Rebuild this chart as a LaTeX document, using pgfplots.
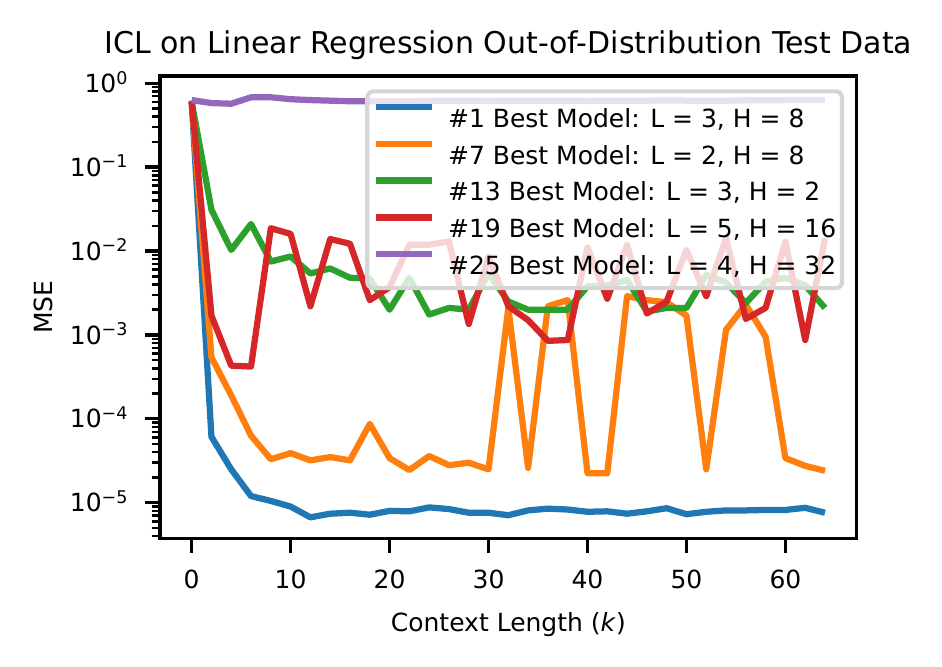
\documentclass[border=0pt]{standalone}
\usepackage{fontspec}
\setmainfont{DejaVu Sans}
\usepackage{pgfplots}
\pgfplotsset{compat=1.18}
\definecolor{c1}{HTML}{1F77B4}
\definecolor{c2}{HTML}{FF7F0E}
\definecolor{c3}{HTML}{2CA02C}
\definecolor{c4}{HTML}{D62728}
\definecolor{c5}{HTML}{9467BD}
\newcommand{\tp}[1]{10\raisebox{2pt}{\fontsize{4.2}{4.2}\selectfont #1}}
\begin{document}
\begin{tikzpicture}
\path[use as bounding box] (-38.4pt,-30.89pt) rectangle (187.68pt,129.19pt);
\begin{axis}[
  at={(0,0)}, anchor=south west,
  scale only axis, width=167.2pt, height=110.95pt,
  ymode=log,
  xmin=-3.2, xmax=67.2,
  ymin=3.77e-6, ymax=1.22,
  font=\fontsize{6}{7.2}\selectfont,
  axis line style={line width=0.8pt},
  tick align=outside, tick pos=left,
  major tick length=3.5pt, minor tick length=2pt,
  every major tick/.append style={line width=0.8pt, black},
  every minor tick/.append style={line width=0.6pt, black},
  xtick={0,10,20,30,40,50,60},
  /pgf/number format/assume math mode=true,
  xticklabel style={anchor=base, inner sep=0pt, yshift=-8.5pt},
  ytick={1e-5,1e-4,1e-3,1e-2,1e-1,1},
  yticklabels={\tp{−5},\tp{−4},\tp{−3},\tp{−2},\tp{−1},\tp{0}},
  minor ytick={4e-6,5e-6,6e-6,7e-6,8e-6,9e-6,
    2e-5,3e-5,4e-5,5e-5,6e-5,7e-5,8e-5,9e-5,
    2e-4,3e-4,4e-4,5e-4,6e-4,7e-4,8e-4,9e-4,
    2e-3,3e-3,4e-3,5e-3,6e-3,7e-3,8e-3,9e-3,
    2e-2,3e-2,4e-2,5e-2,6e-2,7e-2,8e-2,9e-2,
    2e-1,3e-1,4e-1,5e-1,6e-1,7e-1,8e-1,9e-1},
  yticklabel style={anchor=base east, inner sep=0pt, xshift=-4.1pt, yshift=-2.2pt},
  title={ICL on Linear Regression Out-of-Distribution Test Data},
  every axis title/.style={at={(axis description cs:0.5,1.0491)}, anchor=base, inner sep=0pt, font=\fontsize{7.2}{8.6}\selectfont},
  xlabel={Context Length (\textit{k})},
  xlabel style={at={(axis description cs:0.5,-0.2019)}, anchor=base, inner sep=0pt},
  ylabel={MSE},
  ylabel style={at={(axis description cs:-0.1549,0.5)}, anchor=base, inner sep=0pt},
  every axis plot/.append style={line width=1.5pt, line join=round, no markers},
  legend cell align=left,
  legend style={at={(axis description cs:1,1)}, anchor=north east, xshift=-3pt, yshift=-3.2pt,
    draw=black!16, line width=1pt, fill=white, fill opacity=0.8, text opacity=1, draw opacity=1,
    rounded corners=1.5pt, inner xsep=1.4pt, inner ysep=2.3pt, row sep=1.53pt,
    font=\fontsize{6}{7.2}\selectfont,
    nodes={inner sep=0pt, text height=6.3pt, text depth=1.0pt}},
  legend image code/.code={\draw[#1, line width=1.5pt, line cap=butt] (0pt,2.2pt) -- (13.4pt,2.2pt); \path (16.5pt,2.2pt);},
]
\addplot[c1] coordinates {(0,0.62)(2,6.1e-5)(4,2.5e-5)(6,1.2e-5)(8,1.05e-5)(10,9.0e-6)(12,6.7e-6)(14,7.4e-6)(16,7.6e-6)(18,7.2e-6)(20,8.0e-6)(22,7.9e-6)(24,8.8e-6)(26,8.4e-6)(28,7.6e-6)(30,7.6e-6)(32,7.1e-6)(34,8.1e-6)(36,8.5e-6)(38,8.3e-6)(40,7.8e-6)(42,7.9e-6)(44,7.4e-6)(46,7.9e-6)(48,8.6e-6)(50,7.3e-6)(52,7.8e-6)(54,8.1e-6)(56,8.1e-6)(58,8.2e-6)(60,8.2e-6)(62,8.7e-6)(64,7.6e-6)};
\addlegendentry{\#1 Best Model: L = 3, H = 8\hspace{1pt}}
\addplot[c2] coordinates {(0,0.6)(2,5.4e-4)(4,1.9e-4)(6,6.3e-5)(8,3.3e-5)(10,3.9e-5)(12,3.2e-5)(14,3.5e-5)(16,3.2e-5)(18,8.7e-5)(20,3.4e-5)(22,2.45e-5)(24,3.6e-5)(26,2.8e-5)(28,3.0e-5)(30,2.5e-5)(32,2.1e-3)(34,2.6e-5)(36,2.2e-3)(38,2.6e-3)(40,2.25e-5)(42,2.25e-5)(44,2.9e-3)(46,2.6e-3)(48,2.45e-3)(50,1.7e-3)(52,2.5e-5)(54,1.15e-3)(56,2.3e-3)(58,9.5e-4)(60,3.4e-5)(62,2.75e-5)(64,2.4e-5)};
\addlegendentry{\#7 Best Model: L = 2, H = 8\hspace{1pt}}
\addplot[c3] coordinates {(0,0.6)(2,0.031)(4,0.0103)(6,0.021)(8,0.0075)(10,0.0086)(12,0.0054)(14,0.0062)(16,0.0048)(18,0.0047)(20,0.0020)(22,0.0048)(24,0.00175)(26,0.0021)(28,0.0020)(30,0.0054)(32,0.0025)(34,0.0020)(36,0.0020)(38,0.0020)(40,0.0038)(42,0.0039)(44,0.0045)(46,0.0019)(48,0.0021)(50,0.0021)(52,0.0052)(54,0.0042)(56,0.0024)(58,0.0043)(60,0.0048)(62,0.0039)(64,0.0021)};
\addlegendentry{\#13 Best Model: L = 3, H = 2\hspace{1pt}}
\addplot[c4] coordinates {(0,0.6)(2,0.0017)(4,0.00043)(6,0.00042)(8,0.0187)(10,0.016)(12,0.0022)(14,0.0139)(16,0.0122)(18,0.0026)(20,0.0037)(22,0.0119)(24,0.0119)(26,0.0130)(28,0.00135)(30,0.0085)(32,0.0022)(34,0.0015)(36,0.00085)(38,0.00087)(40,0.0110)(42,0.0027)(44,0.0118)(46,0.0018)(48,0.0025)(50,0.0103)(52,0.0029)(54,0.0142)(56,0.00155)(58,0.0021)(60,0.0129)(62,0.00087)(64,0.0142)};
\addlegendentry{\#19 Best Model: L = 5, H = 16\hspace{1pt}}
\addplot[c5] coordinates {(0,0.63)(2,0.58)(4,0.57)(6,0.68)(8,0.68)(10,0.645)(12,0.63)(14,0.62)(16,0.61)(18,0.61)(20,0.61)(22,0.61)(24,0.615)(26,0.62)(28,0.62)(30,0.615)(32,0.62)(34,0.62)(36,0.62)(38,0.62)(40,0.615)(42,0.62)(44,0.62)(46,0.62)(48,0.625)(50,0.62)(52,0.62)(54,0.62)(56,0.625)(58,0.625)(60,0.63)(62,0.63)(64,0.63)};
\addlegendentry{\#25 Best Model: L = 4, H = 32\hspace{1pt}}
\end{axis}
\end{tikzpicture}
\end{document}
